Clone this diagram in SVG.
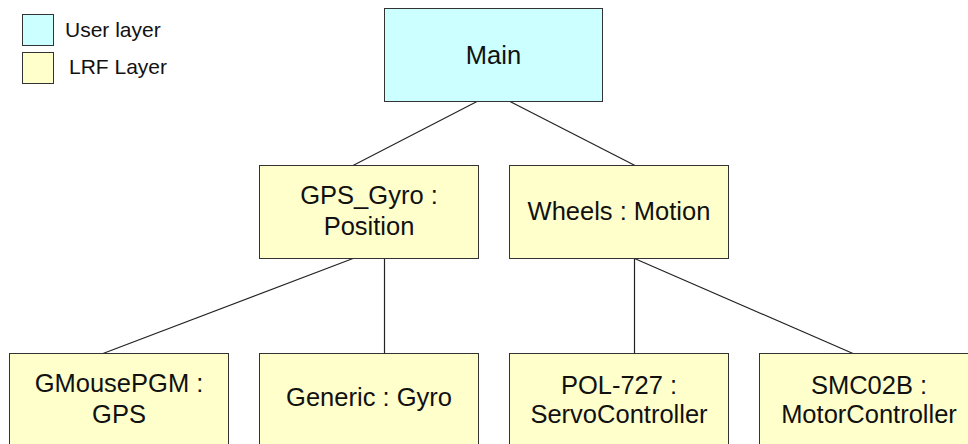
<svg xmlns="http://www.w3.org/2000/svg" width="968" height="444" viewBox="0 0 968 444">
  <style>
    .box { stroke: #333333; stroke-width: 1; }
    .user { fill: #ccffff; }
    .lrf { fill: #ffffcc; }
    .lbl { font-family: "Liberation Sans", Arial, sans-serif; font-size: 25.5px; fill: #111111; text-anchor: middle; }
    .leg { font-family: "Liberation Sans", Arial, sans-serif; font-size: 21px; fill: #111111; }
    .wire { stroke: #222222; stroke-width: 1.2; fill: none; }
  </style>
  <rect width="968" height="444" fill="#ffffff"/>

  <!-- legend -->
  <g id="legend">
    <rect class="box user" x="22.5" y="14.5" width="31" height="31"/>
    <text class="leg" x="65" y="36.5">User layer</text>
    <rect class="box lrf" x="22.5" y="52.5" width="31" height="31"/>
    <text class="leg" x="69" y="74">LRF Layer</text>
  </g>

  <!-- connectors -->
  <g id="connectors">
    <line class="wire" x1="477" y1="101.5" x2="353" y2="165.5"/>
    <line class="wire" x1="510" y1="101.5" x2="635" y2="165.5"/>
    <line class="wire" x1="353" y1="258.5" x2="103" y2="353.5"/>
    <line class="wire" x1="384.5" y1="258.5" x2="384.5" y2="353.5"/>
    <line class="wire" x1="634.5" y1="258.5" x2="634.5" y2="353.5"/>
    <line class="wire" x1="634.5" y1="258.5" x2="853" y2="353.5"/>
  </g>

  <!-- nodes -->
  <g id="main">
    <rect class="box user" x="384.5" y="8.5" width="218" height="93"/>
    <text class="lbl" x="493.5" y="64">Main</text>
  </g>
  <g id="gps-gyro">
    <rect class="box lrf" x="259.5" y="165.5" width="219" height="93"/>
    <text class="lbl" x="369" y="204">GPS_Gyro :</text>
    <text class="lbl" x="369" y="235">Position</text>
  </g>
  <g id="wheels">
    <rect class="box lrf" x="509.5" y="165.5" width="219" height="93"/>
    <text class="lbl" x="619" y="220">Wheels : Motion</text>
  </g>
  <g id="gmousepgm">
    <rect class="box lrf" x="9.5" y="353.5" width="219" height="93"/>
    <text class="lbl" x="119" y="392">GMousePGM :</text>
    <text class="lbl" x="119" y="423">GPS</text>
  </g>
  <g id="generic">
    <rect class="box lrf" x="259.5" y="353.5" width="219" height="93"/>
    <text class="lbl" x="369" y="406">Generic : Gyro</text>
  </g>
  <g id="pol727">
    <rect class="box lrf" x="509.5" y="353.5" width="219" height="93"/>
    <text class="lbl" x="619" y="394">POL-727 :</text>
    <text class="lbl" x="619" y="423">ServoController</text>
  </g>
  <g id="smc02b">
    <rect class="box lrf" x="759.5" y="353.5" width="219" height="93"/>
    <text class="lbl" x="869" y="394">SMC02B :</text>
    <text class="lbl" x="869" y="423">MotorController</text>
  </g>
</svg>
